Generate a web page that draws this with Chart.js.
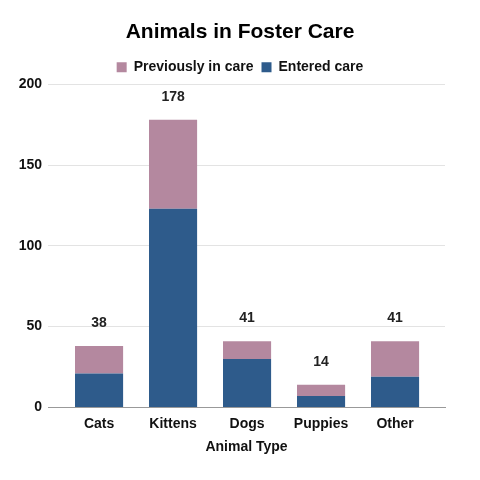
<!DOCTYPE html>
<html>
<head>
<meta charset="utf-8">
<script src="https://cdn.jsdelivr.net/npm/chart.js@4/dist/chart.umd.min.js"></script>
<style>
  html, body { margin: 0; padding: 0; background: #fff; }
  #wrap { width: 480px; height: 480px; }
</style>
</head>
<body>
<div id="wrap"><canvas id="grafik"></canvas></div>
<script>
const ANIMALS = ['Cats', 'Kittens', 'Dogs', 'Puppies', 'Other'];
const ENTERED = [21, 123, 30, 7, 19];
const PREVIOUS = [17, 55, 11, 7, 22];
const Y_TICKS = [0, 50, 100, 150, 200];

const FONT = "'Liberation Sans', Arial, sans-serif";

// draws the stack totals above each bar
const totalsPlugin = {
    id: 'totals',
    afterDatasetsDraw(chart) {
        const ctx = chart.ctx;
        const x = chart.scales.x;
        const y = chart.scales.y;
        ctx.save();
        ctx.font = 'bold 14px ' + FONT;
        ctx.fillStyle = '#222';
        ctx.textAlign = 'center';
        ctx.textBaseline = 'middle';
        ANIMALS.forEach((a, i) => {
            const total = ENTERED[i] + PREVIOUS[i];
            ctx.fillText(String(total), x.getPixelForValue(i), y.getPixelForValue(total) - 23);
        });
        ctx.restore();
    }
};

const data = {
    labels: ANIMALS,
    datasets: [{
        label: 'Entered care',
        data: ENTERED,
        backgroundColor: '#2e5b8b',
        stack: 's'
    }, {
        label: 'Previously in care',
        data: PREVIOUS,
        backgroundColor: '#b4889f',
        stack: 's'
    }]
};

const options = {
    responsive: true,
    maintainAspectRatio: false,
    animation: false,
    layout: { padding: { left: 0, right: 0, top: 10, bottom: 20 } },
    datasets: { bar: { categoryPercentage: 0.65, barPercentage: 1.0 } },
    plugins: {
        title: {
            display: true,
            text: 'Animals in Foster Care',
            color: '#000',
            font: { family: FONT, size: 21, weight: 'bold' },
            padding: { top: 10, bottom: 7 }
        },
        legend: {
            display: true,
            reverse: true,
            labels: {
                color: '#111',
                font: { family: FONT, size: 14, weight: 'bold' },
                boxWidth: 10,
                boxHeight: 10,
                padding: 8
            }
        },
        tooltip: { enabled: false }
    },
    scales: {
        x: {
            stacked: true,
            grid: { display: false },
            border: { display: true, color: '#999' },
            // categories sit inside the plot, narrower than the gridlines
            afterBuildTicks(axis) {
                axis._startValue = -0.69;
                axis._valueRange = 5.365;
            },
            ticks: {
                color: '#111',
                font: { family: FONT, size: 14, weight: 'bold' },
                padding: 0
            },
            title: {
                display: true,
                text: 'Animal Type',
                color: '#111',
                font: { family: FONT, size: 14, weight: 'bold' },
                padding: { top: 7 }
            }
        },
        y: {
            stacked: true,
            min: 0,
            max: 200,
            afterBuildTicks(axis) {
                axis.ticks = Y_TICKS.map(v => ({ value: v }));
            },
            afterFit(axis) { axis.width = 48; },
            grid: { color: '#e3e3e3', drawTicks: false },
            border: { display: false },
            ticks: {
                color: '#111',
                font: { family: FONT, size: 14, weight: 'bold' },
                padding: 6
            }
        },
        // empty axis to keep the right margin
        yRight: {
            position: 'right',
            grid: { display: false },
            border: { display: false },
            ticks: { display: false },
            afterFit(axis) { axis.width = 35; }
        }
    }
};

new Chart(document.getElementById('grafik'), {
    type: 'bar',
    data: data,
    options: options,
    plugins: [totalsPlugin]
});
</script>
</body>
</html>
